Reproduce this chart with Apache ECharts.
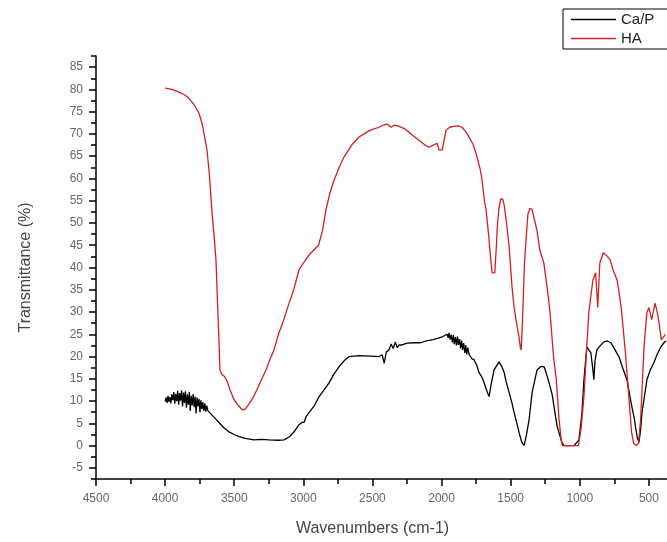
<!DOCTYPE html>
<html>
<head>
<meta charset="utf-8">
<script src="https://cdn.jsdelivr.net/npm/echarts@6/dist/echarts.min.js"></script>
<style>
  html, body { margin: 0; padding: 0; background: #fff; }
  #chart { width: 667px; height: 542px; }
</style>
</head>
<body>
<div id="chart"></div>
<script>
// Ca/P spectrum (wavenumber, transmittance)
const caWave = [4000,3993,3986,3979,3972,3965,3958,3951,3944,3937,3930,3923,3916,3909,3902,3895,3888,3881,3874,3867,3860,3853,3846,3839,3832,3825,3818,3811,3804,3797,3790,3783,3776,3769,3762,3755,3748,3741,3734,3727,3720,3713,3706,3699,3690,3682,3650,3610,3575,3538,3500,3465,3420,3357,3300,3248,3180,3140,3100,3067,3031,3010,2995,2980,2959,2920,2886,2850,2814,2780,2742,2700,2669,2597,2520,2452,2430,2415,2400,2380,2365,2350,2335,2320,2307,2286,2250,2200,2150,2110,2060,2018,1990,1960,1952,1946,1938,1930,1922,1915,1908,1900,1892,1885,1878,1870,1862,1855,1848,1840,1832,1825,1818,1810,1801,1790,1780,1765,1745,1729,1710,1692,1675,1656,1640,1620,1600,1584,1565,1547,1530,1511,1490,1475,1455,1439,1420,1403,1385,1367,1345,1320,1309,1280,1258,1240,1222,1200,1186,1165,1150,1130,1114,1042,1006,985,970,949,935,920,905,898,890,876,850,826,800,775,745,717,690,659,640,623,605,594,585,572,560,550,530,514,490,464,440,413,391,375];
const caVal  = [9.9,10.8,9.6,11.2,9.8,10.9,9.5,11.5,10.2,12,9.4,11.6,10,12.3,9.2,11.8,10.1,12.4,8.8,11.9,9.6,12.2,8.5,11.5,9.2,12,7.8,11.2,9,11.6,8.6,11,7.2,10.8,8.8,10.5,7.5,10.2,8.2,9.8,7.8,9.5,7.6,9,7.8,8,6.5,5.2,4,3.1,2.5,2,1.6,1.3,1.4,1.3,1.2,1.3,2,3.1,4.7,5.2,5.2,6.5,7.4,9,11,12.5,14.1,16,17.7,19.2,20,20.2,20.1,20,20.4,18.5,21,21.5,22.8,21.8,23.2,22,22.6,22.6,23,23.1,23.1,23.5,23.8,24.2,24.5,25,24.2,25.3,23.8,24.9,23.2,24.8,22.8,24.4,22.5,24.5,22.6,23.9,21.8,23.6,21.5,23,20.8,22.6,20.5,22,20.5,20.2,19.5,19.3,18,16.4,15.5,14.1,12.5,11,14,17,18,18.8,17.8,16.4,14,11.9,9.5,7.4,5,2.9,0.8,0,2.5,5.8,11.9,15.5,17,17.8,17.7,16,14.1,11.5,8.7,4.5,2.9,0.8,0,0,1.3,7,14.8,22.2,21.5,20.9,17,14.8,19,21.5,22.5,23.3,23.5,23.1,21.5,20,17.5,14.8,11.5,8.7,6,3.6,2,0.7,3.5,7.4,11.5,14.8,17,18.6,20.5,22.2,23.1,23.5];

// HA spectrum (wavenumber, transmittance)
const haWave = [4000,3950,3900,3860,3827,3790,3755,3730,3697,3680,3660,3645,3632,3617,3603,3590,3570,3552,3530,3501,3470,3440,3420,3390,3360,3335,3300,3270,3240,3212,3180,3150,3103,3070,3031,3000,2959,2922,2890,2860,2836,2810,2778,2740,2706,2650,2597,2520,2452,2420,2394,2365,2340,2307,2270,2235,2200,2163,2120,2090,2060,2032,2018,1995,1982,1967,1940,1910,1880,1852,1825,1801,1770,1743,1720,1707,1690,1678,1665,1656,1645,1634,1615,1605,1595,1584,1570,1555,1547,1530,1511,1490,1475,1455,1440,1430,1425,1420,1410,1400,1385,1375,1360,1345,1330,1310,1290,1260,1230,1215,1190,1170,1150,1135,1125,1050,1010,990,970,950,935,905,885,870,855,830,800,780,760,730,700,670,645,625,610,590,575,560,535,515,500,480,455,440,430,410,380];
const haVal  = [80.3,80,79.4,78.8,78,76.5,74.7,72,66.4,61,52,47,41.7,29,17,16,15.5,14.5,12.5,10.3,9,8,8.2,9.5,11,12.6,15,17,19.5,21.5,25,27.5,32,35,39.5,41,42.8,44,45,48.5,53,56.5,59.6,62.5,64.8,67.5,69.3,70.8,71.5,72,72.2,71.5,72,71.7,71.2,70.4,69.5,68.6,67.5,67,67.5,67.9,66.4,66.4,66.8,70.9,71.5,71.7,71.8,71.5,70.5,69.3,67.5,64.8,62,59.6,55,53,49,46,42,38.8,38.8,44,50,53.5,55.5,55.2,54,50,44.6,35.6,31,27,24.5,22,21.5,24,32,41,48,52,53.3,53,51,48.4,44,41,34,29.8,20,14.8,6,1.3,0,0,0,4,11,22,29.8,37.2,38.8,31,41,43.3,42.5,41.7,39.5,37.2,31,20.9,11,2.9,0.5,0,0.5,5.8,22.2,29.8,31,28.3,32,30,28.3,23.8,25];

const xLabels = [4500,4000,3500,3000,2500,2000,1500,1000,500];
const xMinor = [4250,3750,3250,2750,2250,1750,1250,750];
const yLabels = [-5,0,5,10,15,20,25,30,35,40,45,50,55,60,65,70,75,80,85];
const yMinor = [-7.5,-2.5,2.5,7.5,12.5,17.5,22.5,27.5,32.5,37.5,42.5,47.5,52.5,57.5,62.5,67.5,72.5,77.5,82.5,87.5];

const pairs = (xs, ys) => xs.map((x, i) => [x, ys[i]]);

const chart = echarts.init(document.getElementById('chart'), null, { renderer: 'canvas' });
const labelFont = { color: '#666', fontSize: 12, fontFamily: 'Liberation Sans, Arial, sans-serif' };
const titleFont = { color: '#444', fontSize: 16, fontFamily: 'Liberation Sans, Arial, sans-serif' };
const tickLine = { color: '#000', width: 1.5 };

// the original plot is cropped at the right, around 369 cm-1
const xMin = 369, xMax = 4500;
const yMin = -7.5, yMax = 87.5;

const option = {
    backgroundColor: '#fff',
    animation: false,
    grid: { left: 96, right: 0, top: 56, bottom: 63, containLabel: false },
    legend: {
        orient: 'vertical',
        left: 563,
        top: 9,
        icon: 'rect',
        itemWidth: 45,
        itemHeight: 1.5,
        itemGap: 4,
        padding: [3, 40, 3, 8],
        borderColor: '#000',
        borderWidth: 1,
        textStyle: { color: '#222', fontSize: 15, fontFamily: 'Liberation Sans, Arial, sans-serif' },
        data: ['Ca/P', 'HA']
    },
    xAxis: [{
        type: 'value',
        min: xMin,
        max: xMax,
        inverse: true,
        name: 'Wavenumbers (cm-1)',
        nameLocation: 'middle',
        nameGap: 42,
        nameTextStyle: Object.assign({ padding: [0, 18, 0, 0] }, titleFont),
        axisLine: { onZero: false, lineStyle: { color: '#000', width: 1.5 } },
        axisTick: { length: 7, customValues: xLabels, lineStyle: tickLine },
        axisLabel: Object.assign({ margin: 14, customValues: xLabels, formatter: v => String(v) }, labelFont),
        splitLine: { show: false }
    }, {
        type: 'value',
        min: xMin,
        max: xMax,
        inverse: true,
        position: 'bottom',
        axisLine: { show: false, onZero: false },
        axisTick: { show: true, length: 5, customValues: xMinor, lineStyle: tickLine },
        axisLabel: { show: false },
        splitLine: { show: false }
    }],
    yAxis: [{
        type: 'value',
        min: yMin,
        max: yMax,
        name: 'Transmittance (%)',
        nameLocation: 'middle',
        nameGap: 62,
        nameTextStyle: titleFont,
        axisLine: { show: true, onZero: false, lineStyle: { color: '#000', width: 1.5 } },
        axisTick: { show: true, length: 7, customValues: yLabels, lineStyle: tickLine },
        axisLabel: Object.assign({ margin: 13, customValues: yLabels }, labelFont),
        splitLine: { show: false }
    }, {
        type: 'value',
        min: yMin,
        max: yMax,
        position: 'left',
        axisLine: { show: false, onZero: false },
        axisTick: { show: true, length: 5, customValues: yMinor, lineStyle: tickLine },
        axisLabel: { show: false },
        splitLine: { show: false }
    }],
    series: [{
        name: 'Ca/P',
        type: 'line',
        symbol: 'none',
        lineStyle: { color: '#000', width: 1.3 },
        itemStyle: { color: '#000' },
        data: pairs(caWave, caVal)
    }, {
        name: 'HA',
        type: 'line',
        symbol: 'none',
        lineStyle: { color: '#d41f1f', width: 1.3 },
        itemStyle: { color: '#d41f1f' },
        data: pairs(haWave, haVal)
    }]
};
chart.setOption(option);
</script>
</body>
</html>
